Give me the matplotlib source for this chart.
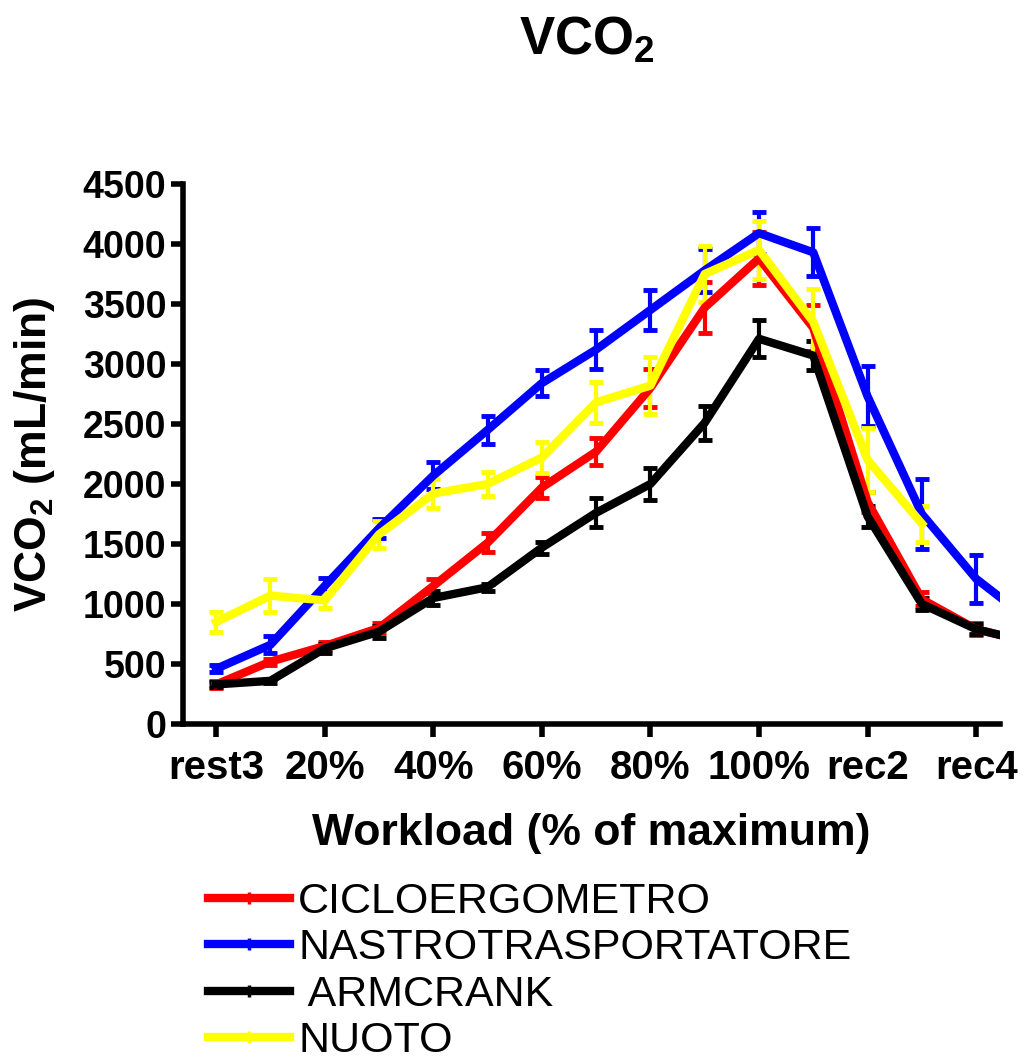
import matplotlib
matplotlib.use("Agg")
import matplotlib.pyplot as plt
from matplotlib.lines import Line2D
import numpy as np

plt.rcParams['font.family'] = ['Liberation Sans', 'DejaVu Sans']
plt.rcParams['mathtext.fontset'] = 'custom'
plt.rcParams['mathtext.rm'] = 'Liberation Sans:bold'
plt.rcParams['mathtext.it'] = 'Liberation Sans:bold'
plt.rcParams['mathtext.bf'] = 'Liberation Sans:bold'
plt.rcParams['mathtext.default'] = 'rm'

categories = ['rest3', '10%', '20%', '30%', '40%', '50%', '60%', '70%', '80%',
              '90%', '100%', 'rec1', 'rec2', 'rec3', 'rec4', 'rec5']
tick_labels = ['rest3', '20%', '40%', '60%', '80%', '100%', 'rec2', 'rec4']

cyclo = [330, 520, 650, 800, 1150, 1510, 1970, 2270, 2800, 3470, 3880, 3300, 1850, 1040, 790, 680]
cyclo_err = [30, 25, 30, 40, 60, 80, 90, 110, 160, 210, 220, 190, 80, 60, 50, 40]
nastro = [460, 660, 1150, 1630, 2070, 2450, 2840, 3120, 3450, 3780, 4090, 3930, 2730, 1750, 1210, 860]
nastro_err = [30, 70, 70, 80, 110, 120, 110, 165, 170, 180, 175, 200, 250, 295, 200, 200]
arm = [330, 360, 630, 770, 1050, 1140, 1470, 1760, 2000, 2510, 3210, 3070, 1730, 1000, 790, 680]
arm_err = [20, 15, 40, 50, 60, 30, 50, 120, 130, 140, 155, 120, 90, 50, 40, 30]
nuoto = [850, 1070, 1030, 1580, 1920, 2000, 2220, 2680, 2820, 3750, 3950, 3350, 2200, 1670]
nuoto_err = [85, 140, 60, 110, 120, 100, 130, 170, 240, 230, 240, 275, 270, 150]

series = [
    ("CICLOERGOMETRO", cyclo, cyclo_err, '#ff0000'),
    ("NASTROTRASPORTATORE", nastro, nastro_err, '#0000ff'),
    (" ARMCRANK", arm, arm_err, '#000000'),
    ("NUOTO", nuoto, nuoto_err, '#ffff00'),
]

fig = plt.figure(figsize=(10.24, 10.59), dpi=100)
ax = fig.add_axes([0.1787, 0.3163, 0.7979, 0.51])

handles = []
for name, vals, errs, col in series:
    x = np.arange(len(vals))
    ax.errorbar(x, vals, yerr=errs, color=col, linewidth=6, elinewidth=3,
                capsize=5, capthick=3.5)
    # legend handle: thick line with a tiny tick in the middle, like Prism
    handles.append(Line2D([0], [0], color=col, linewidth=6, marker='|',
                          markersize=9, markeredgewidth=2.5, label=name))

ax.set_xlim(-0.61, 14.44)
ax.set_ylim(0, 4500)
ax.set_yticks(np.arange(0, 4501, 500))
ax.set_xticks(np.arange(0, 15, 2))
ax.set_xticklabels(tick_labels, fontsize=29, fontweight='bold')
for lab in ax.get_yticklabels():
    lab.set_fontsize(27)
    lab.set_fontweight('bold')

for s in ['top', 'right']:
    ax.spines[s].set_visible(False)
for s in ['left', 'bottom']:
    ax.spines[s].set_linewidth(4)
ax.tick_params(axis='both', direction='out', length=9, width=4)
ax.tick_params(axis='y', pad=3)
ax.tick_params(axis='x', pad=9)

ax.set_ylabel(r'VCO$_2$ (mL/min)', fontsize=32, fontweight='bold')
ax.yaxis.set_label_coords(-0.154, 0.5)
ax.set_xlabel('Workload (% of maximum)', fontsize=32, fontweight='bold')
ax.xaxis.set_label_coords(0.5, -0.165)

fig.text(0.573, 0.962, r'VCO$_2$', fontsize=38, fontweight='bold', ha='center', va='center')

fig.legend(handles=handles, loc='upper left', bbox_to_anchor=(0.165, 0.204),
           frameon=False, handlelength=1.9, handletextpad=0.2, labelspacing=0.15,
           prop={'size': 31})

fig.savefig('out.png', dpi=100)
